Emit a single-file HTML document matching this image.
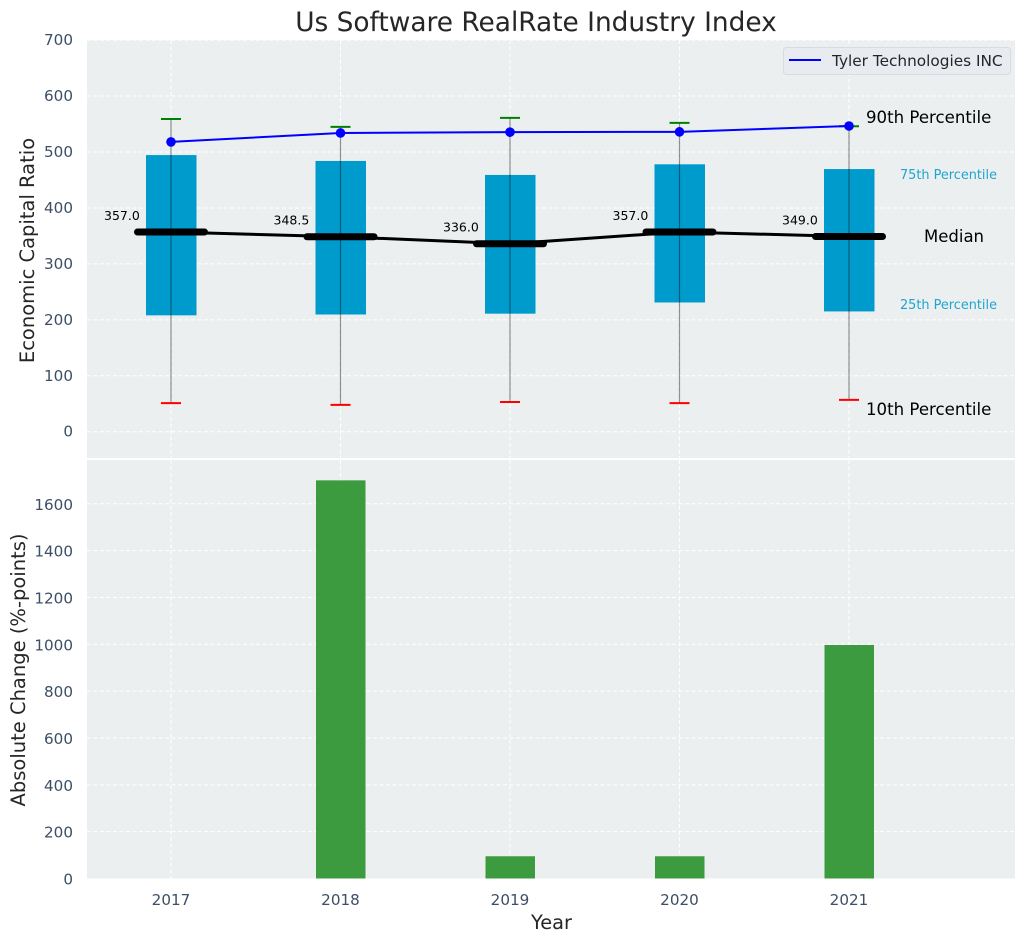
<!DOCTYPE html>
<html>
<head>
<meta charset="utf-8">
<title>Us Software RealRate Industry Index</title>
<style>
html,body{margin:0;padding:0;background:#fff;width:1026px;height:942px;overflow:hidden}
svg{display:block;font-family:"DejaVu Sans","Liberation Sans",sans-serif}
</style>
</head>
<body>
<svg id="chart" xmlns="http://www.w3.org/2000/svg" width="1026" height="942" viewBox="0 0 1026 942">
  <rect x="0" y="0" width="1026" height="942" fill="#ffffff"/>
  <text x="536" y="31" font-size="26.4px" fill="#262626" text-anchor="middle">Us Software RealRate Industry Index</text>
  <rect x="87" y="40" width="928" height="418" fill="#ebeff0"/>
  <rect x="87" y="460" width="928" height="418.5" fill="#ebeff0"/>
  <g id="top-grid"></g>
  <g id="bottom-grid"></g>
  <g id="top-marks"></g>
  <g id="bottom-marks"></g>
  <g id="axis-labels"></g>
  <text transform="translate(34 250.5) rotate(-90)" font-size="19.5px" fill="#262626" text-anchor="middle">Economic Capital Ratio</text>
  <text transform="translate(25 670) rotate(-90)" font-size="19.5px" fill="#262626" text-anchor="middle">Absolute Change (%-points)</text>
  <text x="551.5" y="929" font-size="19.4px" fill="#262626" text-anchor="middle">Year</text>
  <g>
    <rect x="783.5" y="47.5" width="227" height="27" rx="3" fill="#e8ebf0" stroke="#d8dbdf" stroke-width="1"/>
    <line x1="789" y1="60" x2="821" y2="60" stroke="#0000ff" stroke-width="2"/>
    <text x="832" y="66" font-size="15.3px" fill="#262626">Tyler Technologies INC</text>
  </g>
  <text x="866" y="123" font-size="16.6px" fill="#000000">90th Percentile</text>
  <text x="900" y="179" font-size="12.85px" fill="#1fa5d0">75th Percentile</text>
  <text x="924" y="242" font-size="16.5px" fill="#000000">Median</text>
  <text x="900" y="309" font-size="12.85px" fill="#1fa5d0">25th Percentile</text>
  <text x="866" y="415" font-size="16.6px" fill="#000000">10th Percentile</text>
</svg>
<script>
const years = [2017, 2018, 2019, 2020, 2021];
const p10 = [51, 48, 53, 51, 57];
const q25 = [208, 209.5, 211, 231, 215];
const medians = [357.0, 348.5, 336.0, 357.0, 349.0];
const q75 = [494.5, 484, 459, 478, 469.5];
const p90 = [559, 545, 561, 552, 546];
const companyValues = [518, 534, 535.5, 536, 546.5];
const changeValues = [0, 1700, 95, 95, 997];
const topTicks = [0, 100, 200, 300, 400, 500, 600, 700];
const bottomTicks = [0, 200, 400, 600, 800, 1000, 1200, 1400, 1600];

const NS = 'http://www.w3.org/2000/svg';
const xScale = function (year) { return 171 + (year - 2017) * 169.5; };
const yTop = function (v) { return 431.7 - v * 0.5594; };
const yBottom = function (v) { return 878.5 - v * 0.2342; };

function make(parent, tag, attrs, text) {
  const el = document.createElementNS(NS, tag);
  Object.keys(attrs).forEach(function (k) { el.setAttribute(k, attrs[k]); });
  if (text !== undefined) el.textContent = text;
  parent.appendChild(el);
  return el;
}

const topGrid = document.getElementById('top-grid');
const bottomGrid = document.getElementById('bottom-grid');
const topMarks = document.getElementById('top-marks');
const bottomMarks = document.getElementById('bottom-marks');
const axisLabels = document.getElementById('axis-labels');
const gridStyle = { stroke: '#ffffff', 'stroke-width': 1, 'stroke-dasharray': '4 2.5' };

topTicks.forEach(function (t) {
  const g = make(topGrid, 'line', Object.assign({ x1: 87, x2: 1015, y1: yTop(t), y2: yTop(t) }, gridStyle));
  
  
  const l = make(axisLabels, 'text', { x: 73, y: yTop(t) + 5, 'font-size': '15.2px', fill: '#3c4f66', 'text-anchor': 'end' }, String(t));
  
  
});

bottomTicks.forEach(function (t) {
  if (t > 0) {
    const g = make(bottomGrid, 'line', Object.assign({ x1: 87, x2: 1015, y1: yBottom(t), y2: yBottom(t) }, gridStyle));
    
    
  }
  const l = make(axisLabels, 'text', { x: 73, y: yBottom(t) + 6, 'font-size': '15.2px', fill: '#3c4f66', 'text-anchor': 'end' }, String(t));
  
  
});

years.forEach(function (year) {
  const x = xScale(year);
  const g1 = make(topGrid, 'line', Object.assign({ x1: x, x2: x, y1: 40, y2: 458 }, gridStyle));
  
  
  const g2 = make(bottomGrid, 'line', Object.assign({ x1: x, x2: x, y1: 460, y2: 878.5 }, gridStyle));
  
  
  const l = make(axisLabels, 'text', { x: x, y: 905, 'font-size': '15.2px', fill: '#3c4f66', 'text-anchor': 'middle' }, String(year));
  
  
});

years.forEach(function (year, i) {
  const x = xScale(year);
  const box = make(topMarks, 'rect', { x: x - 25, y: yTop(q75[i]), width: 50.5, height: yTop(q25[i]) - yTop(q75[i]), fill: '#009bcd' });
  
  
});

years.forEach(function (year, i) {
  const x = xScale(year);
  const whisker = make(topMarks, 'line', { x1: x, x2: x, y1: yTop(p90[i]), y2: yTop(p10[i]), stroke: '#000000', 'stroke-opacity': 0.42, 'stroke-width': 1.2 });
  
  
  const capHigh = make(topMarks, 'line', { x1: x - 10, x2: x + 10, y1: yTop(p90[i]), y2: yTop(p90[i]), stroke: '#008000', 'stroke-width': 2 });
  
  
  const capLow = make(topMarks, 'line', { x1: x - 10, x2: x + 10, y1: yTop(p10[i]), y2: yTop(p10[i]), stroke: '#ff0000', 'stroke-width': 2 });
  
  
});

const medianPath = make(topMarks, 'polyline', {
  points: years.map(function (y, i) { return xScale(y) + ',' + yTop(medians[i]); }).join(' '),
  fill: 'none', stroke: '#000000', 'stroke-width': 3
});



years.forEach(function (year, i) {
  const x = xScale(year);
  const y = yTop(medians[i]);
  const bar = make(topMarks, 'line', { x1: x - 33.5, x2: x + 33.5, y1: y, y2: y, stroke: '#000000', 'stroke-width': 7, 'stroke-linecap': 'round' });
  
  
  const label = make(topMarks, 'text', { x: x - 67, y: y - 12, 'font-size': '12.5px', fill: '#000000' }, medians[i].toFixed(1));
  
  
});

const companyLine = make(topMarks, 'polyline', {
  points: years.map(function (y, i) { return xScale(y) + ',' + yTop(companyValues[i]); }).join(' '),
  fill: 'none', stroke: '#0000ff', 'stroke-width': 2
});



years.forEach(function (year, i) {
  const dot = make(topMarks, 'circle', { cx: xScale(year), cy: yTop(companyValues[i]), r: 4.8, fill: '#0000ff' });
  
  
});

years.forEach(function (year, i) {
  if (changeValues[i] <= 0) return;
  const x = xScale(year);
  const bar = make(bottomMarks, 'rect', { x: x - 24.5, y: yBottom(changeValues[i]), width: 49.5, height: yBottom(0) - yBottom(changeValues[i]), fill: '#3c9b3f' });
  
  
});
</script>
</body>
</html>
